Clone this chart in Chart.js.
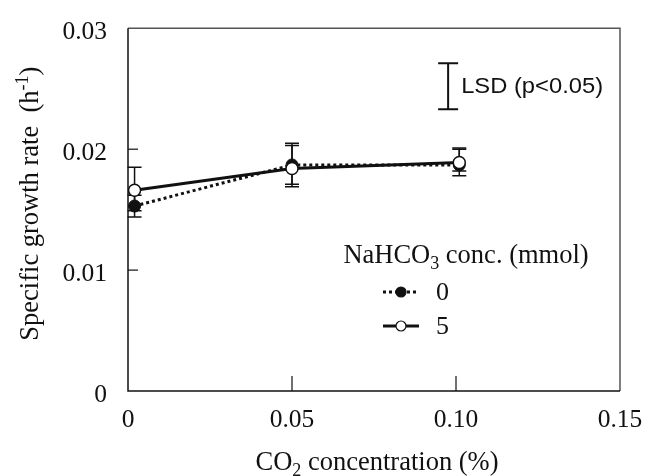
<!DOCTYPE html>
<html>
<head>
<meta charset="utf-8">
<script src="https://cdn.jsdelivr.net/npm/chart.js@4.4.1/dist/chart.umd.min.js"></script>
<style>
  html, body { margin: 0; padding: 0; background: #fff; }
  #wrap { width: 661px; height: 476px; position: relative; }
</style>
</head>
<body>
<div id="wrap"><canvas id="growthChart"></canvas></div>
<script>
// CO2 concentration (%) and specific growth rate (h-1)
const co2 = [0.002, 0.05, 0.101];
const rate0 = [0.0153, 0.0187, 0.0187];
const rate5 = [0.0166, 0.0184, 0.0189];
const err0Low = [0.0144, 0.0171, 0.0178];
const err0High = [0.0162, 0.0205, 0.0200];
const err5Low = [0.0149, 0.0169, 0.0182];
const err5High = [0.0185, 0.0203, 0.0201];
const lsd = [0.0976, 0.0233, 0.0271]; // x, low, high

const xTicks = [0, 0.05, 0.10, 0.15];
const xTickLabels = ['0', '0.05', '0.10', '0.15'];
const yTicks = [0, 0.01, 0.02, 0.03];
const yTickLabels = ['0', '0.01', '0.02', '0.03'];

const serif = '"Liberation Serif", "Times New Roman", serif';
const sans = '"Liberation Sans", Arial, sans-serif';

// draw text made of pieces, some of them sub- or superscript
function richText(ctx, parts, x, y, size, align) {
    let w = 0;
    parts.forEach(p => {
        ctx.font = (p.s ? size * 0.68 : size) + 'px ' + serif;
        w += ctx.measureText(p.t).width;
    });
    let cx = align === 'center' ? x - w / 2 : x;
    ctx.textBaseline = 'alphabetic';
    ctx.textAlign = 'left';
    parts.forEach(p => {
        ctx.font = (p.s ? size * 0.68 : size) + 'px ' + serif;
        let dy = p.s === 'sub' ? size * 0.22 : (p.s === 'sup' ? -size * 0.38 : 0);
        ctx.fillText(p.t, cx, y + dy);
        cx += ctx.measureText(p.t).width;
    });
}

const series = [
    { low: err0Low, high: err0High, y: rate0 },
    { low: err5Low, high: err5High, y: rate5 }
];

const extras = {
    id: 'extras',
    beforeDatasetsDraw(chart) {
        const ctx = chart.ctx;
        const xs = chart.scales.x, ys = chart.scales.y;
        ctx.save();
        ctx.strokeStyle = '#111';
        ctx.lineWidth = 1.5;
        series.forEach(s => {
            co2.forEach((c, i) => {
                const px = xs.getPixelForValue(c);
                const lo = ys.getPixelForValue(s.low[i]);
                const hi = ys.getPixelForValue(s.high[i]);
                ctx.beginPath();
                ctx.moveTo(px, lo); ctx.lineTo(px, hi);
                ctx.moveTo(px - 7, lo); ctx.lineTo(px + 7, lo);
                ctx.moveTo(px - 7, hi); ctx.lineTo(px + 7, hi);
                ctx.stroke();
            });
        });
        ctx.restore();
    },
    afterDraw(chart) {
        const ctx = chart.ctx;
        const a = chart.chartArea;
        const xs = chart.scales.x, ys = chart.scales.y;
        ctx.save();
        // frame
        ctx.lineWidth = 1.5;
        ctx.strokeStyle = '#555';
        ctx.beginPath();
        ctx.moveTo(a.left, a.top); ctx.lineTo(a.right, a.top); ctx.lineTo(a.right, a.bottom);
        ctx.stroke();
        ctx.strokeStyle = '#111';
        ctx.beginPath();
        ctx.moveTo(a.left, a.top); ctx.lineTo(a.left, a.bottom); ctx.lineTo(a.right, a.bottom);
        ctx.stroke();
        // inward ticks
        ctx.lineWidth = 1.2;
        yTicks.slice(1, 3).forEach(v => {
            const py = ys.getPixelForValue(v);
            ctx.beginPath(); ctx.moveTo(a.left, py); ctx.lineTo(a.left + 10, py); ctx.stroke();
        });
        xTicks.slice(1, 3).forEach(v => {
            const px = xs.getPixelForValue(v);
            ctx.beginPath(); ctx.moveTo(px, a.bottom); ctx.lineTo(px, a.bottom - 15); ctx.stroke();
        });

        // LSD bar
        const lx = xs.getPixelForValue(lsd[0]);
        const ll = ys.getPixelForValue(lsd[1]);
        const lh = ys.getPixelForValue(lsd[2]);
        ctx.lineWidth = 2;
        ctx.beginPath();
        ctx.moveTo(lx, ll); ctx.lineTo(lx, lh);
        ctx.moveTo(lx - 10, ll); ctx.lineTo(lx + 10, ll);
        ctx.moveTo(lx - 10, lh); ctx.lineTo(lx + 10, lh);
        ctx.stroke();
        ctx.fillStyle = '#111';
        ctx.font = '22px ' + sans;
        ctx.textAlign = 'left';
        ctx.textBaseline = 'alphabetic';
        const lsdLabel = 'LSD (p<0.05)';
        const stretch = 142 / ctx.measureText(lsdLabel).width;
        ctx.save();
        ctx.translate(lx + 13, (ll + lh) / 2 + 7);
        ctx.scale(stretch, 1);
        ctx.fillText(lsdLabel, 0, 0);
        ctx.restore();

        // axis titles
        richText(ctx, [{ t: 'CO' }, { t: '2', s: 'sub' }, { t: ' concentration (%)' }],
            (a.left + a.right) / 2 + 3, 470, 26.5, 'center');
        ctx.save();
        ctx.translate(38, (a.top + a.bottom) / 2 - 6);
        ctx.rotate(-Math.PI / 2);
        richText(ctx, [{ t: 'Specific growth rate  (h' }, { t: '-1', s: 'sup' }, { t: ')' }],
            0, 0, 26.5, 'center');
        ctx.restore();

        // legend
        richText(ctx, [{ t: 'NaHCO' }, { t: '3', s: 'sub' }, { t: ' conc. (mmol)' }],
            466, 263, 26.5, 'center');
        const items = [
            { y: 292, dash: [3, 3], fill: '#111', label: '0' },
            { y: 326, dash: [], fill: '#fff', label: '5' }
        ];
        items.forEach(it => {
            ctx.strokeStyle = '#111';
            ctx.lineWidth = 3;
            ctx.setLineDash(it.dash);
            ctx.beginPath(); ctx.moveTo(383, it.y); ctx.lineTo(419, it.y); ctx.stroke();
            ctx.setLineDash([]);
            ctx.lineWidth = 1.2;
            ctx.fillStyle = it.fill;
            ctx.beginPath(); ctx.arc(401, it.y, 5, 0, Math.PI * 2); ctx.fill(); ctx.stroke();
            ctx.fillStyle = '#111';
            ctx.font = '26px ' + serif;
            ctx.textBaseline = 'middle';
            ctx.fillText(it.label, 436, it.y + 1);
        });
        ctx.restore();
    }
};

const ctx = document.getElementById('growthChart').getContext('2d');
const growthChart = new Chart(ctx, {
    type: 'scatter',
    data: {
        datasets: [{
            label: '0',
            data: co2.map((c, i) => ({ x: c, y: rate0[i] })),
            showLine: true,
            borderColor: '#111',
            borderWidth: 3,
            borderDash: [3, 3],
            pointRadius: 6,
            pointBackgroundColor: '#111',
            pointBorderColor: '#111',
            pointBorderWidth: 1,
            order: 1
        }, {
            label: '5',
            data: co2.map((c, i) => ({ x: c, y: rate5[i] })),
            showLine: true,
            borderColor: '#111',
            borderWidth: 3,
            pointRadius: 6,
            pointBackgroundColor: '#fff',
            pointBorderColor: '#111',
            pointBorderWidth: 1.5,
            order: 0
        }]
    },
    options: {
        responsive: true,
        maintainAspectRatio: false,
        animation: false,
        layout: { padding: { top: 15, right: 41, left: 0, bottom: 0 } },
        plugins: { legend: { display: false }, tooltip: { enabled: false } },
        scales: {
            x: {
                type: 'linear',
                min: 0, max: 0.15,
                afterBuildTicks: s => { s.ticks = xTicks.map(v => ({ value: v })); },
                afterFit: s => { s.height = 85; },
                grid: { display: false },
                border: { display: false },
                ticks: {
                    color: '#111',
                    padding: 6,
                    maxRotation: 0,
                    font: { family: serif, size: 25.5 },
                    callback: (v, i) => xTickLabels[i]
                }
            },
            y: {
                min: 0, max: 0.03,
                afterBuildTicks: s => { s.ticks = yTicks.map(v => ({ value: v })); },
                afterFit: s => { s.width = 128; },
                grid: { display: false },
                border: { display: false },
                ticks: {
                    color: '#111',
                    padding: 13,
                    labelOffset: 4,
                    font: { family: serif, size: 25.5 },
                    callback: (v, i) => yTickLabels[i]
                }
            }
        }
    },
    plugins: [extras]
});
</script>
</body>
</html>
